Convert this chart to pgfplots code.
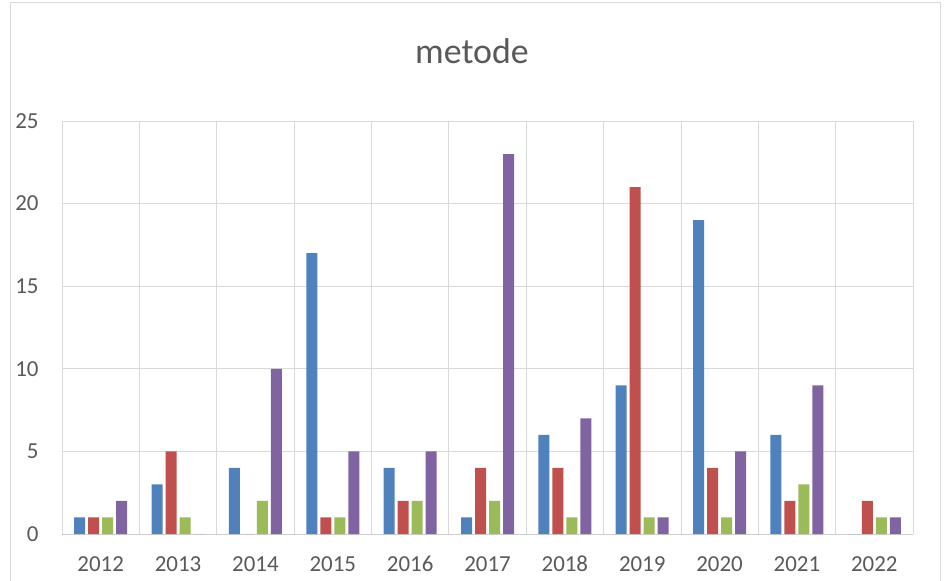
\documentclass[border=0pt]{standalone}
\usepackage{fontspec}
\setmainfont{Carlito}
\usepackage{pgfplots}
\pgfplotsset{compat=1.18}
\definecolor{s1}{HTML}{4F81BD}
\definecolor{s2}{HTML}{C0504D}
\definecolor{s3}{HTML}{9BBB59}
\definecolor{s4}{HTML}{8064A2}
\definecolor{txt}{HTML}{595959}
\definecolor{grd}{HTML}{D9D9D9}
\begin{document}
\begin{tikzpicture}
\useasboundingbox (0,0) rectangle (945bp,581bp);
\draw[grd] (10bp,0) -- (10bp,579bp) -- (940bp,579bp) -- (940bp,0);
\node[text=txt, font=\fontsize{36}{40}\selectfont] at (472bp,530bp) {metode};
\begin{axis}[
  at={(62bp,47bp)}, anchor=south west,
  scale only axis, width=851bp, height=413bp,
  ybar=3bp, bar width=11bp,
  xmin=-0.5, xmax=10.5, ymin=0, ymax=25,
  xtick={0,...,10},
  xticklabels={2012,2013,2014,2015,2016,2017,2018,2019,2020,2021,2022},
  minor xtick={-0.5,0.5,...,10.5},
  ytick={0,5,...,25},
  ymajorgrids, xminorgrids,
  grid style={grd, line width=0.8pt},
  minor grid style={grd, line width=0.8pt},
  axis line style={draw=none},
  major tick length=0pt, minor tick length=0pt,
  tick label style={text=txt, font=\fontsize{23}{26}\selectfont},
  /pgf/number format/assume math mode=true,
  xticklabel style={anchor=base, yshift=-37bp},
  yticklabel style={xshift=-20bp},
  clip=false,
]
\draw[grd!80!black!60, line width=0.8pt] (axis cs:-0.5,0) -- (axis cs:10.5,0);
\addplot[fill=s1, draw=none] coordinates {(0,1)(1,3)(2,4)(3,17)(4,4)(5,1)(6,6)(7,9)(8,19)(9,6)(10,0)};
\addplot[fill=s2, draw=none] coordinates {(0,1)(1,5)(2,0)(3,1)(4,2)(5,4)(6,4)(7,21)(8,4)(9,2)(10,2)};
\addplot[fill=s3, draw=none] coordinates {(0,1)(1,1)(2,2)(3,1)(4,2)(5,2)(6,1)(7,1)(8,1)(9,3)(10,1)};
\addplot[fill=s4, draw=none] coordinates {(0,2)(1,0)(2,10)(3,5)(4,5)(5,23)(6,7)(7,1)(8,5)(9,9)(10,1)};
\end{axis}
\end{tikzpicture}
\end{document}
